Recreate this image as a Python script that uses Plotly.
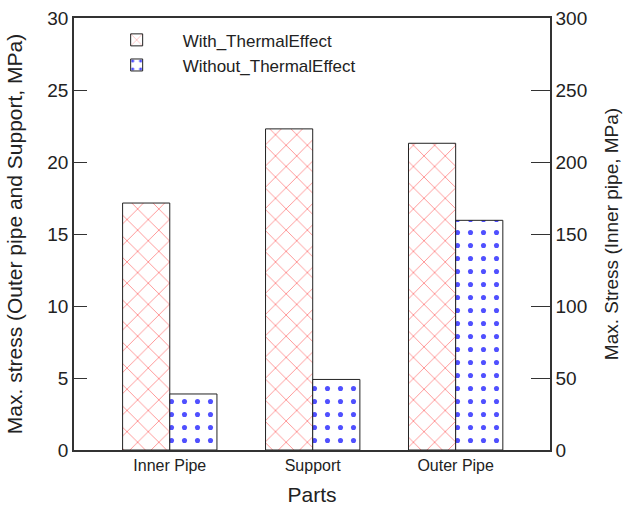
import plotly.graph_objects as go

parts = ["Inner Pipe", "Support", "Outer Pipe"]
series_names = ["With_ThermalEffect", "Without_ThermalEffect"]
# Inner pipe read on the right axis (MPa, 0-300); Support & Outer pipe on the left axis (MPa, 0-30)
with_thermal_inner = [171.5]
without_thermal_inner = [38.9]
with_thermal_other = [22.3, 21.3]
without_thermal_other = [4.9, 15.95]
left_ticks = [0, 5, 10, 15, 20, 25, 30]
right_ticks = [0, 50, 100, 150, 200, 250, 300]

FONT = "Arial, Liberation Sans, sans-serif"
red_pat = dict(shape="x", fgcolor="#ff4040", bgcolor="white", size=15, solidity=0.07, fillmode="replace")
blue_pat = dict(shape=".", fgcolor="#5050ff", bgcolor="white", size=13, solidity=0.12, fillmode="replace")
line = dict(color="#222222", width=1)
W = 0.33

fig = go.Figure()
fig.add_bar(x=parts[:1], y=with_thermal_inner, yaxis="y2", name=series_names[0], legendgroup="w",
            width=W, offset=-W, marker=dict(color="white", pattern=red_pat, line=line), showlegend=True)
fig.add_bar(x=parts[1:], y=with_thermal_other, yaxis="y", name=series_names[0], legendgroup="w",
            width=W, offset=-W, marker=dict(color="white", pattern=red_pat, line=line), showlegend=False)
fig.add_bar(x=parts[:1], y=without_thermal_inner, yaxis="y2", name=series_names[1], legendgroup="wo",
            width=W, offset=0, marker=dict(color="white", pattern=blue_pat, line=line), showlegend=True)
fig.add_bar(x=parts[1:], y=without_thermal_other, yaxis="y", name=series_names[1], legendgroup="wo",
            width=W, offset=0, marker=dict(color="white", pattern=blue_pat, line=line), showlegend=False)

fig.update_layout(
    width=630, height=506,
    margin=dict(l=74, r=80, t=18, b=56),
    plot_bgcolor="white", paper_bgcolor="white",
    font=dict(family=FONT, color="#222222"),
    barmode="overlay",
    showlegend=True,
    legend=dict(x=0.035, y=0.99, xanchor="left", yanchor="top", bgcolor="rgba(0,0,0,0)",
                font=dict(size=17, family=FONT), itemwidth=82, tracegroupgap=0, traceorder="normal"),
    xaxis=dict(type="category", categoryorder="array", categoryarray=parts, range=[-0.67, 2.66],
               showline=True, linecolor="#333333", linewidth=1.5, mirror=True, ticks="",
               tickfont=dict(size=16, family=FONT), automargin=False, ticklabeloverflow="allow",
               title=dict(text="Parts", font=dict(size=21, family=FONT), standoff=17), showgrid=False),
    yaxis=dict(range=[0, 30], tickvals=left_ticks, ticks="inside", ticklen=13, tickcolor="#333333",
               showline=True, linecolor="#333333", linewidth=1.5, showgrid=False, zeroline=False,
               tickfont=dict(size=19, family=FONT), automargin=False, ticklabeloverflow="allow",
               title=dict(text="Max. stress (Outer pipe and Support, MPa)", font=dict(size=21, family=FONT), standoff=19)),
    yaxis2=dict(range=[0, 300], tickvals=right_ticks, overlaying="y", side="right", ticks="inside", ticklen=19,
                tickcolor="#333333", showline=True, linecolor="#333333", linewidth=1.5, showgrid=False,
                zeroline=False, tickfont=dict(size=19, family=FONT), automargin=False, ticklabeloverflow="allow",
                title=dict(text="Max. Stress (Inner pipe, MPa)", font=dict(size=19, family=FONT), standoff=18)),
)

fig.write_html("out.html", config={"displayModeBar": False},
               post_script="document.body.style.margin='0';")
